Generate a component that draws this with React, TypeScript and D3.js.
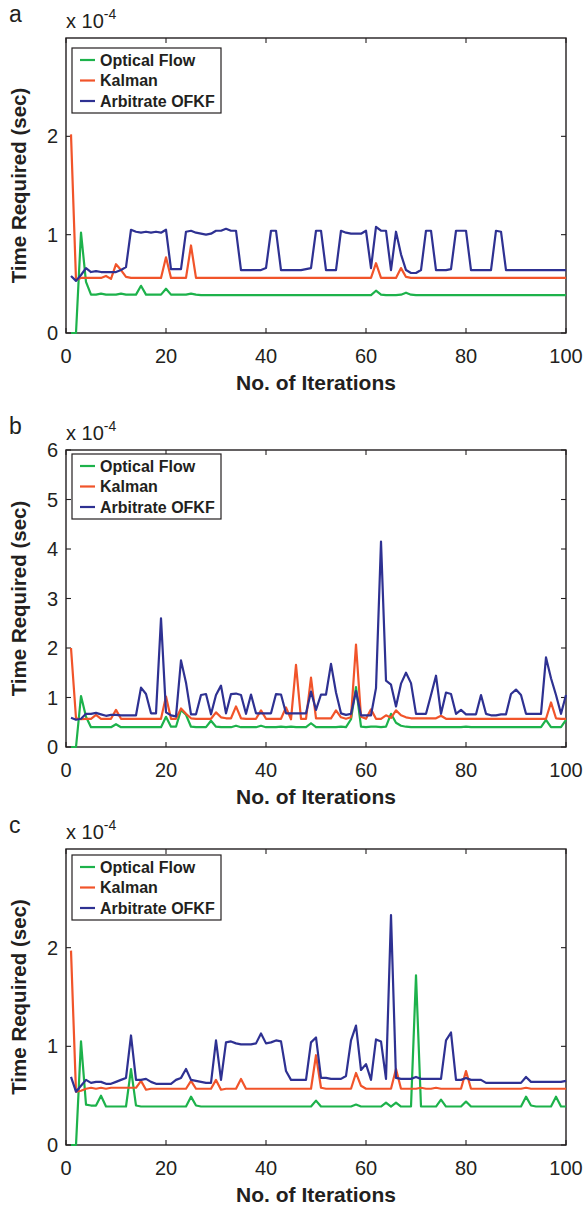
import React from 'react';
import * as d3 from 'd3';

// iterations 1..100
const ITER: number[] = d3.range(1, 101);
const X_TICKS = [0, 20, 40, 60, 80, 100];
const SERIES_NAMES = ['Optical Flow', 'Kalman', 'Arbitrate OFKF'];
const COLORS = ['#1db24b', '#f1542a', '#2e3192'];

// ---------- panel a (x 1e-4 s) ----------
const A_OF = [
  0, 0, 1.02, 0.52, 0.39, 0.39, 0.40, 0.39, 0.39, 0.39,
  0.40, 0.39, 0.39, 0.39, 0.48, 0.39, 0.39, 0.39, 0.39, 0.45,
  0.39, 0.39, 0.39, 0.39, 0.40, 0.39, 0.385, 0.385, 0.385, 0.385,
  0.385, 0.385, 0.385, 0.385, 0.385, 0.385, 0.385, 0.385, 0.385, 0.385,
  0.385, 0.385, 0.385, 0.385, 0.385, 0.385, 0.385, 0.385, 0.385, 0.385,
  0.385, 0.385, 0.385, 0.385, 0.385, 0.385, 0.385, 0.385, 0.385, 0.385,
  0.385, 0.43, 0.39, 0.385, 0.385, 0.385, 0.39, 0.41, 0.39, 0.385,
  0.385, 0.385, 0.385, 0.385, 0.385, 0.385, 0.385, 0.385, 0.385, 0.385,
  0.385, 0.385, 0.385, 0.385, 0.385, 0.385, 0.385, 0.385, 0.385, 0.385,
  0.385, 0.385, 0.385, 0.385, 0.385, 0.385, 0.385, 0.385, 0.385, 0.385,
];
const A_KF = [
  2.02, 0.54, 0.56, 0.56, 0.56, 0.56, 0.56, 0.58, 0.55, 0.70,
  0.64, 0.57, 0.56, 0.56, 0.56, 0.56, 0.56, 0.56, 0.56, 0.77,
  0.56, 0.56, 0.56, 0.56, 0.89, 0.56, 0.56, 0.56, 0.56, 0.56,
  0.56, 0.56, 0.56, 0.56, 0.56, 0.56, 0.56, 0.56, 0.56, 0.56,
  0.56, 0.56, 0.56, 0.56, 0.56, 0.56, 0.56, 0.56, 0.56, 0.56,
  0.56, 0.56, 0.56, 0.56, 0.56, 0.56, 0.56, 0.56, 0.56, 0.56,
  0.56, 0.71, 0.56, 0.56, 0.56, 0.56, 0.66, 0.57, 0.56, 0.56,
  0.56, 0.56, 0.56, 0.56, 0.56, 0.56, 0.56, 0.56, 0.56, 0.56,
  0.56, 0.56, 0.56, 0.56, 0.56, 0.56, 0.56, 0.56, 0.56, 0.56,
  0.56, 0.56, 0.56, 0.56, 0.56, 0.56, 0.56, 0.56, 0.56, 0.56,
];
const A_OFKF = [
  0.58, 0.53, 0.59, 0.66, 0.62, 0.63, 0.62, 0.62, 0.62, 0.62,
  0.64, 0.67, 1.05, 1.03, 1.02, 1.03, 1.02, 1.03, 1.02, 1.05,
  0.65, 0.65, 0.65, 1.03, 1.04, 1.02, 1.01, 1.00, 1.01, 1.04,
  1.04, 1.06, 1.04, 1.04, 0.64, 0.64, 0.64, 0.64, 0.64, 0.66,
  1.04, 1.04, 0.64, 0.64, 0.64, 0.64, 0.64, 0.65, 0.66, 1.04,
  1.04, 0.64, 0.64, 0.64, 1.04, 1.02, 1.01, 1.01, 1.01, 1.04,
  0.66, 1.08, 1.04, 1.04, 0.64, 1.03, 0.80, 0.64, 0.61, 0.61,
  0.64, 1.04, 1.04, 0.64, 0.64, 0.64, 0.65, 1.04, 1.04, 1.04,
  0.64, 0.64, 0.64, 0.64, 0.64, 1.04, 1.03, 0.64, 0.64, 0.64,
  0.64, 0.64, 0.64, 0.64, 0.64, 0.64, 0.64, 0.64, 0.64, 0.64,
];

// ---------- panel b ----------
const B_OF = [
  0, 0, 1.03, 0.61, 0.40, 0.40, 0.40, 0.40, 0.40, 0.46,
  0.40, 0.40, 0.40, 0.40, 0.40, 0.40, 0.40, 0.40, 0.40, 0.61,
  0.41, 0.41, 0.75, 0.65, 0.41, 0.40, 0.40, 0.40, 0.53, 0.41,
  0.40, 0.40, 0.40, 0.43, 0.40, 0.40, 0.40, 0.40, 0.43, 0.40,
  0.40, 0.40, 0.41, 0.40, 0.41, 0.40, 0.40, 0.40, 0.48, 0.40,
  0.40, 0.40, 0.40, 0.40, 0.41, 0.40, 0.56, 1.21, 0.41, 0.40,
  0.41, 0.41, 0.40, 0.41, 0.67, 0.49, 0.43, 0.41, 0.40, 0.40,
  0.40, 0.40, 0.40, 0.40, 0.40, 0.40, 0.40, 0.40, 0.40, 0.41,
  0.40, 0.40, 0.40, 0.40, 0.40, 0.40, 0.40, 0.40, 0.40, 0.40,
  0.40, 0.40, 0.40, 0.40, 0.40, 0.55, 0.40, 0.40, 0.40, 0.55,
];
const B_KF = [
  2.00, 0.58, 0.56, 0.57, 0.57, 0.65, 0.57, 0.57, 0.57, 0.75,
  0.57, 0.57, 0.57, 0.57, 0.57, 0.57, 0.57, 0.57, 0.57, 1.02,
  0.57, 0.57, 0.78, 0.67, 0.58, 0.57, 0.57, 0.57, 0.57, 0.70,
  0.60, 0.58, 0.58, 0.82, 0.58, 0.57, 0.57, 0.57, 0.74, 0.57,
  0.57, 0.57, 0.57, 0.80, 0.56, 1.66, 0.57, 0.57, 1.40, 0.58,
  0.58, 0.58, 0.58, 0.74, 0.60, 0.57, 0.60, 2.07, 0.61, 0.57,
  0.76, 0.57, 0.57, 0.64, 0.59, 0.74, 0.64, 0.60, 0.58, 0.58,
  0.58, 0.58, 0.58, 0.58, 0.63, 0.57, 0.57, 0.57, 0.57, 0.57,
  0.57, 0.57, 0.57, 0.57, 0.57, 0.57, 0.57, 0.57, 0.57, 0.57,
  0.57, 0.57, 0.57, 0.57, 0.57, 0.57, 0.90, 0.58, 0.57, 0.57,
];
const B_OFKF = [
  0.59, 0.55, 0.57, 0.67, 0.67, 0.69, 0.66, 0.63, 0.65, 0.65,
  0.64, 0.64, 0.64, 0.64, 1.20, 1.07, 0.68, 0.68, 2.60, 0.70,
  0.64, 0.62, 1.75, 1.30, 0.66, 0.66, 1.05, 1.07, 0.66, 1.05,
  1.24, 0.68, 1.07, 1.08, 1.05, 0.67, 1.06, 0.68, 0.68, 0.68,
  0.68, 1.07, 1.06, 0.68, 0.68, 0.68, 0.68, 0.68, 1.12, 0.75,
  1.06, 1.06, 1.68, 1.10, 0.68, 0.65, 0.67, 1.13, 0.64, 0.64,
  0.64, 1.19, 4.15, 1.34, 1.26, 0.82, 1.28, 1.50, 1.29, 0.67,
  0.67, 0.67, 1.05, 1.44, 0.67, 1.10, 1.07, 0.67, 0.75, 0.66,
  0.66, 0.66, 1.05, 0.67, 0.64, 0.64, 0.66, 0.66, 1.07, 1.16,
  1.05, 0.67, 0.67, 0.67, 0.67, 1.81, 1.39, 1.05, 0.67, 1.05,
];

// ---------- panel c ----------
const C_OF = [
  0, 0, 1.05, 0.41, 0.40, 0.40, 0.50, 0.39, 0.39, 0.39,
  0.39, 0.39, 0.77, 0.40, 0.39, 0.39, 0.39, 0.39, 0.39, 0.39,
  0.39, 0.39, 0.39, 0.39, 0.49, 0.40, 0.39, 0.39, 0.39, 0.39,
  0.39, 0.39, 0.39, 0.39, 0.39, 0.39, 0.39, 0.39, 0.39, 0.39,
  0.39, 0.39, 0.39, 0.39, 0.39, 0.39, 0.39, 0.39, 0.39, 0.45,
  0.39, 0.39, 0.39, 0.39, 0.39, 0.39, 0.39, 0.41, 0.39, 0.39,
  0.39, 0.39, 0.39, 0.43, 0.39, 0.43, 0.39, 0.39, 0.39, 1.72,
  0.39, 0.39, 0.39, 0.39, 0.46, 0.39, 0.39, 0.39, 0.39, 0.44,
  0.39, 0.39, 0.39, 0.39, 0.39, 0.39, 0.39, 0.39, 0.39, 0.39,
  0.39, 0.49, 0.40, 0.39, 0.39, 0.39, 0.39, 0.49, 0.39, 0.39,
];
const C_KF = [
  1.97, 0.54, 0.55, 0.57, 0.58, 0.57, 0.58, 0.57, 0.58, 0.58,
  0.58, 0.58, 0.58, 0.58, 0.65, 0.56, 0.57, 0.57, 0.57, 0.57,
  0.57, 0.57, 0.57, 0.57, 0.65, 0.57, 0.57, 0.57, 0.57, 0.66,
  0.56, 0.57, 0.57, 0.57, 0.67, 0.57, 0.57, 0.57, 0.57, 0.57,
  0.57, 0.57, 0.57, 0.57, 0.57, 0.57, 0.57, 0.57, 0.57, 0.91,
  0.58, 0.57, 0.57, 0.57, 0.57, 0.57, 0.57, 0.73, 0.60, 0.57,
  0.57, 0.57, 0.57, 0.57, 0.57, 0.77, 0.57, 0.57, 0.57, 0.57,
  0.58, 0.57, 0.57, 0.58, 0.57, 0.57, 0.57, 0.57, 0.57, 0.75,
  0.57, 0.57, 0.57, 0.57, 0.57, 0.57, 0.57, 0.57, 0.57, 0.57,
  0.57, 0.58, 0.57, 0.57, 0.57, 0.57, 0.57, 0.57, 0.57, 0.57,
];
const C_OFKF = [
  0.69, 0.54, 0.60, 0.66, 0.63, 0.64, 0.64, 0.62, 0.62, 0.64,
  0.66, 0.68, 1.11, 0.66, 0.66, 0.67, 0.64, 0.62, 0.62, 0.62,
  0.62, 0.66, 0.68, 0.77, 0.66, 0.65, 0.64, 0.63, 0.63, 1.06,
  0.66, 1.04, 1.05, 1.03, 1.02, 1.02, 1.02, 1.03, 1.13, 1.03,
  1.04, 1.06, 1.05, 0.75, 0.66, 0.66, 0.66, 0.66, 1.04, 1.09,
  0.68, 0.68, 0.67, 0.67, 0.67, 0.70, 1.06, 1.21, 0.76, 0.82,
  0.66, 1.07, 1.05, 0.67, 2.33, 0.68, 0.67, 0.67, 0.67, 0.69,
  0.67, 0.67, 0.67, 0.67, 0.67, 1.06, 1.14, 0.66, 0.66, 0.68,
  0.66, 0.66, 0.66, 0.63, 0.63, 0.63, 0.63, 0.63, 0.63, 0.63,
  0.63, 0.69, 0.64, 0.64, 0.64, 0.64, 0.64, 0.64, 0.64, 0.65,
];

const A_YTICKS = [0, 1, 2];
const B_YTICKS = [0, 1, 2, 3, 4, 5, 6];
const C_YTICKS = [0, 1, 2];

const PANELS = [
  { letter: 'a', top: 38, bottom: 333, yMax: 3, yTicks: A_YTICKS, legendTop: 48, series: [A_OF, A_KF, A_OFKF] },
  { letter: 'b', top: 450, bottom: 747, yMax: 6, yTicks: B_YTICKS, legendTop: 454, series: [B_OF, B_KF, B_OFKF] },
  { letter: 'c', top: 849, bottom: 1145, yMax: 3, yTicks: C_YTICKS, legendTop: 855, series: [C_OF, C_KF, C_OFKF] },
];

const FONT = '"Liberation Sans", Arial, Helvetica, sans-serif';
const INK = '#231f20';
const LEFT = 66;
const RIGHT = 566;
const TICK = 5;

function Panel({ p }: { p: typeof PANELS[number] }) {
  const x = d3.scaleLinear().domain([0, 100]).range([LEFT, RIGHT]);
  const y = d3.scaleLinear().domain([0, p.yMax]).range([p.bottom, p.top]);
  const line = d3
    .line<number>()
    .x((_, i) => x(ITER[i]))
    .y((d) => y(d));
  const cy = (p.top + p.bottom) / 2;
  const lx = 72;
  const lw = 149;
  const lh = 65;
  const rowOff = [12, 32.5, 53];
  return (
    <g>
      <text x={9} y={p.top - 16} fontSize={23} fontFamily={FONT} fill={INK}>
        {p.letter}
      </text>
      <text x={LEFT} y={p.top - 10} fontSize={20} fontFamily={FONT} fill={INK}>
        x 10
        <tspan fontSize={14} dy={-9}>-4</tspan>
      </text>
      {/* frame */}
      <rect x={LEFT} y={p.top} width={RIGHT - LEFT} height={p.bottom - p.top} fill="white" stroke={INK} strokeWidth={1.4} />
      {/* x ticks */}
      {X_TICKS.map((t) => (
        <g key={'x' + t}>
          <line x1={x(t)} x2={x(t)} y1={p.bottom} y2={p.bottom - TICK} stroke={INK} strokeWidth={1.1} />
          <line x1={x(t)} x2={x(t)} y1={p.top} y2={p.top + TICK} stroke={INK} strokeWidth={1.1} />
          <text x={x(t)} y={p.bottom + 30} textAnchor="middle" fontSize={20} fontFamily={FONT} fill={INK}>
            {t}
          </text>
        </g>
      ))}
      {/* y ticks */}
      {p.yTicks.map((t) => (
        <g key={'y' + t}>
          <line x1={LEFT} x2={LEFT + TICK} y1={y(t)} y2={y(t)} stroke={INK} strokeWidth={1.1} />
          <line x1={RIGHT} x2={RIGHT - TICK} y1={y(t)} y2={y(t)} stroke={INK} strokeWidth={1.1} />
          <text x={58} y={y(t) + 7} textAnchor="end" fontSize={20} fontFamily={FONT} fill={INK}>
            {t}
          </text>
        </g>
      ))}
      {/* series */}
      {p.series.map((s, k) => (
        <path key={'s' + k} d={line(s) || ''} fill="none" stroke={COLORS[k]} strokeWidth={2.2} strokeLinejoin="round" />
      ))}
      {/* legend */}
      <rect x={lx} y={p.legendTop} width={lw} height={lh} fill="white" stroke={INK} strokeWidth={1.2} />
      {SERIES_NAMES.map((n, k) => (
        <g key={'l' + k}>
          <line x1={80} x2={95} y1={p.legendTop + rowOff[k]} y2={p.legendTop + rowOff[k]} stroke={COLORS[k]} strokeWidth={2.2} />
          <text x={100} y={p.legendTop + rowOff[k] + 5.5} fontSize={16} fontWeight="bold" fontFamily={FONT} fill={INK}>
            {n}
          </text>
        </g>
      ))}
      {/* axis labels */}
      <text x={(LEFT + RIGHT) / 2} y={p.bottom + 57} textAnchor="middle" fontSize={21} fontWeight="bold" fontFamily={FONT} fill={INK}>
        No. of Iterations
      </text>
      <text transform={`translate(26,${cy}) rotate(-90)`} textAnchor="middle" fontSize={20.5} fontWeight="bold" fontFamily={FONT} fill={INK}>
        Time Required (sec)
      </text>
    </g>
  );
}

export default function App() {
  return (
    <svg
      width={585}
      height={1205}
      style={{ position: 'absolute', left: 0, top: 0, background: 'white' }}
      xmlns="http://www.w3.org/2000/svg"
    >
      <rect x={0} y={0} width={585} height={1205} fill="white" />
      {PANELS.map((p) => (
        <Panel key={p.letter} p={p} />
      ))}
    </svg>
  );
}
